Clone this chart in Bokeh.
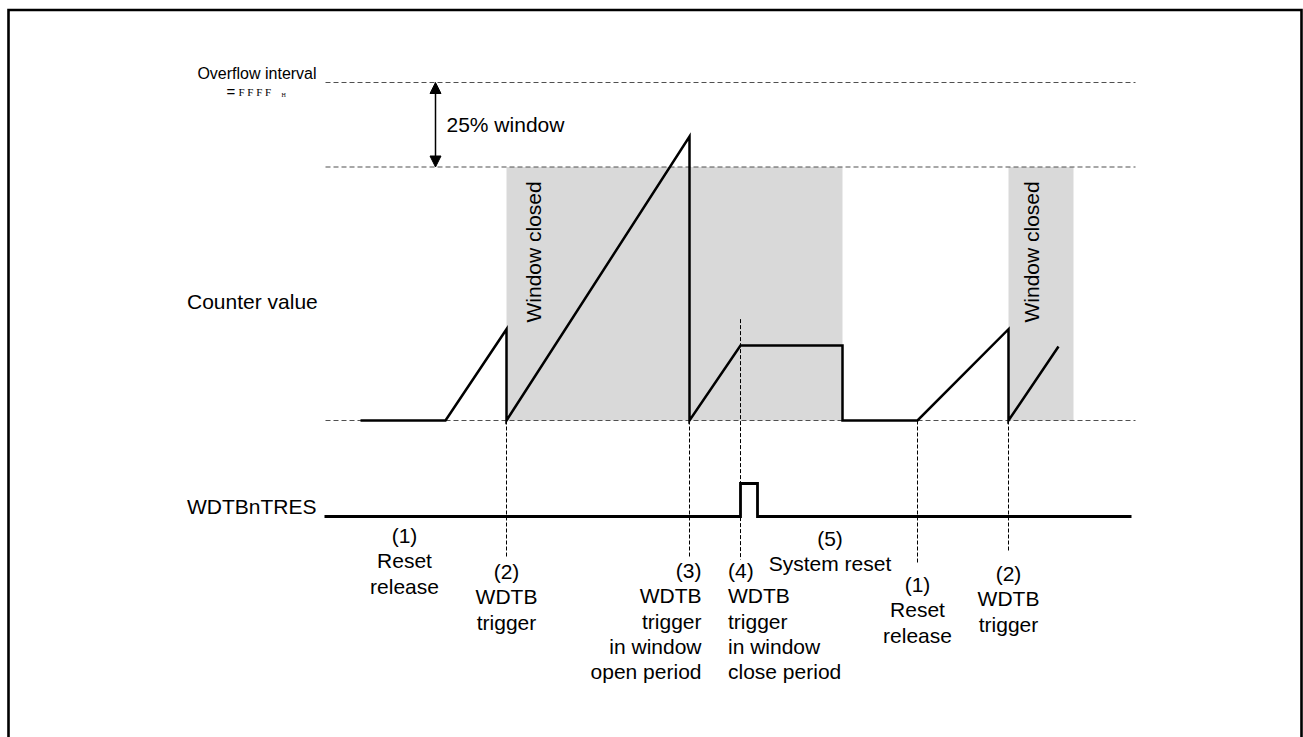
import math
from bokeh.plotting import figure
from bokeh.models import Range1d, Arrow, NormalHead
from bokeh.core.properties import value
from bokeh.embed import file_html
from bokeh.resources import INLINE

# ---------------- data ----------------
# time axis (arbitrary time units, left -> right)
counter_t = [360, 445, 506, 506, 689, 689, 740, 842, 842, 917, 1008, 1008, 1058]
# counter value as a fraction of the overflow value FFFF_H
counter_v = [0.0, 0.0, 0.27, 0.0, 0.84, 0.0, 0.222, 0.222, 0.0, 0.0, 0.27, 0.0, 0.219]

# WDTBnTRES signal (0 = low, 1 = high)
tres_t = [324, 740, 740, 757, 757, 1131]
tres_v = [0, 0, 1, 1, 0, 0]

# "Window closed" periods
closed_start = [506, 1008]
closed_end = [842, 1073]
closed_level = 0.75            # window opens above 75 % of overflow

# reference levels: overflow, window boundary, zero
ref_levels = [1.0, 0.75, 0.0]
ref_t0, ref_t1 = 325, 1135

# event (trigger / release) times with dashed markers
marker_t = [506, 689, 740, 917, 1008]
marker_from_v = [0.0, 0.0, 0.30, 0.0, 0.0]

# event labels
label_t = [404, 506, 689, 740, 829, 917, 1008]
label_text = [
    ["(1)", "Reset", "release"],
    ["(2)", "WDTB", "trigger"],
    ["(3)", "WDTB", "trigger", "in window", "open period"],
    ["(4)", "WDTB", "trigger", "in window", "close period"],
    ["(5)", "System reset"],
    ["(1)", "Reset", "release"],
    ["(2)", "WDTB", "trigger"],
]

# ---------------- layout ----------------
W, H = 1303, 737
BASE_PX, FULL_PX = 420, 82             # pixel rows of counter 0 and overflow
SIG_PX, SIG_H = 516, 33                # pixel row of WDTBnTRES low, pulse height
FONT = value("Liberation Sans")


def c2px(v):
    return BASE_PX - (BASE_PX - FULL_PX) * v


p = figure(width=W, height=H, output_backend="svg", toolbar_location=None,
           x_range=Range1d(0, W), y_range=Range1d(H, 0),
           x_axis_type=None, y_axis_type=None, min_border=0,
           background_fill_color="white", border_fill_color="white")
p.outline_line_color = None
p.grid.visible = False

k = BASE_PX - FULL_PX
p.extra_y_ranges = {
    "counter": Range1d((BASE_PX - H) / k, BASE_PX / k),
    "sig": Range1d(-(H - SIG_PX) / SIG_H, SIG_PX / SIG_H),
}

# outer frame (open at the bottom edge of the picture)
p.line([8, 8, 1301, 1301], [H, 9.5, 9.5, H],
       line_color="black", line_width=2.6, line_join="miter")

# window-closed shading
p.quad(left=closed_start, right=closed_end, bottom=[0, 0],
       top=[closed_level] * len(closed_start), y_range_name="counter",
       fill_color="#d9d9d9", line_color=None)

# reference dashed levels
for lv in ref_levels:
    p.line([ref_t0, ref_t1], [lv, lv], y_range_name="counter",
           line_color="#505050", line_width=1.2, line_dash="5 3")

# event markers (vertical dashes)
marker_end_px = [557, 558, 559, 564, 552]
p.segment(x0=marker_t, y0=[c2px(v) for v in marker_from_v],
          x1=marker_t, y1=marker_end_px,
          line_color="black", line_width=1, line_dash="4 2")

# counter waveform
p.line(counter_t, counter_v, y_range_name="counter",
       line_color="black", line_width=2.5, line_join="miter")

# WDTBnTRES waveform
p.line(tres_t, tres_v, y_range_name="sig",
       line_color="black", line_width=2.8, line_join="miter")

# 25 % window arrow
head = dict(size=11, fill_color="black", line_color="black")
p.add_layout(Arrow(x_start=435, y_start=ref_levels[1], x_end=435, y_end=ref_levels[0],
                   y_range_name="counter", line_width=1.5, line_color="black",
                   start=NormalHead(**head), end=NormalHead(**head)))


# texts
def txt(x, y, s, size="21px", align="left", baseline="middle", font=FONT, angle=0.0):
    p.text(x=[x], y=[y], text=[s], text_font=font, text_font_size=value(size),
           text_align=align, text_baseline=baseline, text_color="black", angle=angle)


txt(256.5, 72.5, "Overflow interval", size="16px", align="center")
txt(226, 91, "=", size="15px")
txt(238, 91, "F F F F", size="11px", font=value("Liberation Serif"))
txt(281, 94, "H", size="6px", font=value("Liberation Serif"))
txt(446, 123.5, "25% window")
txt(186.5, 301, "Counter value")
txt(186.5, 506, "WDTBnTRES")

for x_base in [533, 1031]:
    txt(x_base, 322, "Window closed", baseline="alphabetic", angle=math.pi / 2)

# label blocks
block_align = ["center", "center", "right", "left", "center", "center", "center"]
block_dx = [0, 0, 12, -12.5, 0.5, 0, 0]
block_y0 = [535, 571, 570, 570, 538, 584, 573]
STEP = 25.3
for t, lines, al, dx, y0 in zip(label_t, label_text, block_align, block_dx, block_y0):
    for i, s in enumerate(lines):
        txt(t + dx, y0 + i * STEP, s, align=al)

open("out.html", "w").write(file_html(p, INLINE))
